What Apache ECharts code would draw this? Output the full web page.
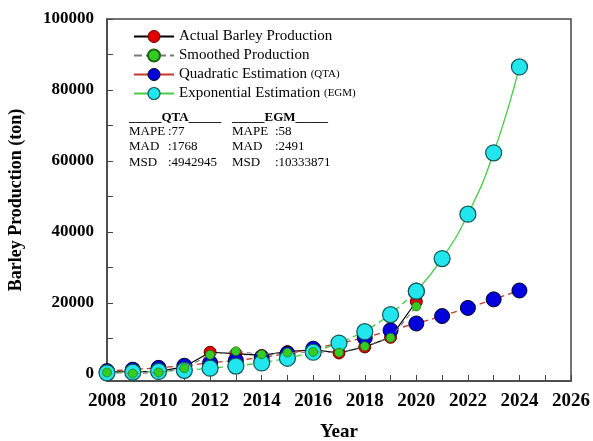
<!DOCTYPE html>
<html>
<head>
<meta charset="utf-8">
<script src="https://cdn.jsdelivr.net/npm/echarts@6/dist/echarts.min.js"></script>
<style>
  html, body { margin: 0; padding: 0; background: #fff; }
  #chart { width: 593px; height: 441px; }
</style>
</head>
<body>
<div id="chart"></div>
<script>
// Observed and fitted barley production, tonnes per year
const actualYears = [2008, 2009, 2010, 2011, 2012, 2013, 2014, 2015, 2016, 2017, 2018, 2019, 2020];
const actualProduction = [600, 600, 700, 2000, 6100, 5700, 5200, 6300, 6800, 5900, 7600, 10300, 20400];
const smoothedProduction = [400, 100, 400, 1600, 5400, 6400, 5500, 6000, 6200, 6000, 7800, 10200, 19000];

const forecastYears = [2008, 2009, 2010, 2011, 2012, 2013, 2014, 2015, 2016, 2017, 2018, 2019, 2020, 2021, 2022, 2023, 2024];
const qtaEstimate = [800, 1200, 1700, 2300, 3100, 3800, 4600, 5700, 7100, 8600, 10200, 12300, 14200, 16300, 18600, 21000, 23500];
const egmEstimate = [300, 500, 700, 1000, 1600, 2200, 3100, 4400, 6100, 8700, 11900, 16700, 23300, 32500, 45000, 62300, 86500];

const yTickLabels = [0, 20000, 40000, 60000, 80000, 100000];
const yTicks = [0, 10000, 20000, 30000, 40000, 50000, 60000, 70000, 80000, 90000, 100000];

const statNames = ['MAPE', 'MAD', 'MSD'];
const qtaStats = [':77', ':1768', ':4942945'];
const egmStats = [':58', ':2491', ':10333871'];

const serif = '"Liberation Serif", "Times New Roman", serif';

const pairs = (xs, ys) => xs.map((x, i) => [x, ys[i]]);
const lastHistIdx = actualYears.length - 1;

const chart = echarts.init(document.getElementById('chart'), null, { renderer: 'canvas' });

// Goodness-of-fit table under the legend
const statGraphics = [];
statGraphics.push({ type: 'text', left: 129, top: 111, style: { text: '_____QTA_____', font: 'bold 13px ' + serif, fill: '#000' } });
statGraphics.push({ type: 'text', left: 232, top: 111, style: { text: '_____EGM_____', font: 'bold 13px ' + serif, fill: '#000' } });
statNames.forEach((n, i) => {
  const top = 125 + i * 15.5;
  statGraphics.push({ type: 'text', left: 129, top: top, style: { text: n, font: '13px ' + serif, fill: '#000' } });
  statGraphics.push({ type: 'text', left: 168, top: top, style: { text: qtaStats[i], font: '13px ' + serif, fill: '#000' } });
  statGraphics.push({ type: 'text', left: 232, top: top, style: { text: n, font: '13px ' + serif, fill: '#000' } });
  statGraphics.push({ type: 'text', left: 275, top: top, style: { text: egmStats[i], font: '13px ' + serif, fill: '#000' } });
});

const option = {
  backgroundColor: '#fff',
  animation: false,
  grid: {
    left: 107, right: 22, top: 19, bottom: 60,
    outerBoundsMode: 'none', containLabel: false,
    show: true, borderColor: '#444', borderWidth: 1.5, backgroundColor: 'transparent'
  },
  legend: {
    orient: 'vertical',
    left: 128,
    top: 24,
    itemGap: 4,
    itemWidth: 40,
    itemHeight: 15,
    textStyle: {
      fontFamily: serif, fontSize: 15, color: '#000',
      rich: { s: { fontFamily: serif, fontSize: 11, color: '#000' } }
    },
    formatter: function (name) {
      if (name === 'Quadratic Estimation') return 'Quadratic Estimation {s|(QTA)}';
      if (name === 'Exponential Estimation') return 'Exponential Estimation {s|(EGM)}';
      return name;
    },
    data: [
      { name: 'Actual Barley Production', itemStyle: { color: '#e00000', borderColor: '#600', borderWidth: 1 }, lineStyle: { type: 'solid', color: '#000' } },
      { name: 'Smoothed Production', itemStyle: { color: '#33cc22' }, lineStyle: { type: 'dashed', color: '#777' } },
      { name: 'Quadratic Estimation', itemStyle: { color: '#0000dd', borderColor: '#002', borderWidth: 1 }, lineStyle: { type: 'solid', color: '#c0392b' } },
      { name: 'Exponential Estimation', itemStyle: { color: '#22e6ee', borderColor: '#155', borderWidth: 1.2 }, lineStyle: { type: 'solid', color: '#44cc44' } }
    ]
  },
  xAxis: {
    type: 'value',
    min: 2008, max: 2026, interval: 2,
    name: 'Year', nameLocation: 'middle', nameGap: 42,
    nameTextStyle: { fontFamily: serif, fontWeight: 'bold', fontSize: 19, color: '#000' },
    axisLine: { show: true, onZero: false, lineStyle: { color: '#444', width: 1.5 } },
    axisTick: { show: true, inside: true, length: 6, lineStyle: { color: '#444' } },
    minorTick: { show: true, splitNumber: 2, length: 6, lineStyle: { color: '#444' } },
    splitLine: { show: false },
    axisLabel: { fontFamily: serif, fontWeight: 'bold', fontSize: 19, color: '#000', margin: 11, formatter: v => String(v) }
  },
  yAxis: {
    type: 'value',
    min: -2000, max: 100000,
    name: 'Barley Production (ton)', nameLocation: 'middle', nameGap: 82,
    nameTextStyle: { fontFamily: serif, fontWeight: 'bold', fontSize: 18, color: '#000' },
    axisLine: { show: true, onZero: false, lineStyle: { color: '#444', width: 1.5 } },
    axisTick: { show: true, inside: true, length: 6, customValues: yTicks, lineStyle: { color: '#444' } },
    splitLine: { show: false },
    axisLabel: { fontFamily: serif, fontWeight: 'bold', fontSize: 17, color: '#000', margin: 13, customValues: yTickLabels, formatter: v => String(v) }
  },
  graphic: statGraphics,
  series: [
    {
      name: 'Actual Barley Production', type: 'line', clip: false, z: 3,
      data: pairs(actualYears, actualProduction),
      symbol: 'circle', symbolSize: 12,
      itemStyle: { color: '#e00000', borderColor: '#600', borderWidth: 1 },
      lineStyle: { color: '#000', width: 1.2 }
    },
    {
      name: 'Quadratic Estimation', type: 'line', clip: false, z: 4,
      data: pairs(forecastYears, qtaEstimate),
      symbol: 'circle', symbolSize: 15,
      itemStyle: { color: '#0000dd', borderColor: '#002', borderWidth: 1 },
      lineStyle: { color: '#c0392b', width: 1.3, type: [6, 4] }
    },
    {
      name: 'Exponential Estimation', type: 'line', clip: false, z: 5,
      data: pairs(forecastYears.slice(0, lastHistIdx + 1), egmEstimate.slice(0, lastHistIdx + 1)),
      symbol: 'circle', symbolSize: 16,
      itemStyle: { color: '#22e6ee', borderColor: '#155', borderWidth: 1.2 },
      lineStyle: { color: '#44cc44', width: 1.3, type: [6, 4] }
    },
    {
      name: 'Exponential Estimation', type: 'line', clip: false, z: 5, smooth: true,
      data: pairs(forecastYears.slice(lastHistIdx), egmEstimate.slice(lastHistIdx)),
      symbol: 'circle', symbolSize: 16,
      itemStyle: { color: '#22e6ee', borderColor: '#155', borderWidth: 1.2 },
      lineStyle: { color: '#44cc44', width: 1.3 }
    },
    {
      name: 'Smoothed Production', type: 'line', clip: false, z: 6,
      data: pairs(actualYears, smoothedProduction),
      symbol: 'circle', symbolSize: 9,
      itemStyle: { color: '#33cc22', borderColor: '#1a6610', borderWidth: 0.6 },
      lineStyle: { color: '#777', width: 1.1, type: [5, 4] }
    }
  ]
};

chart.setOption(option);
</script>
</body>
</html>
